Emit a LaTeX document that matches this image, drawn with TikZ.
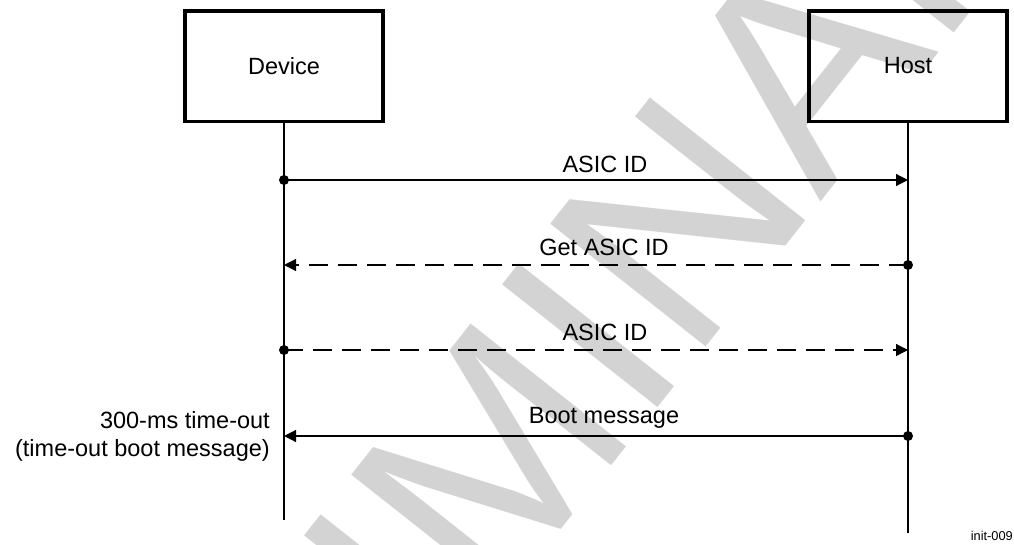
\documentclass[tikz,border=0pt]{standalone}
\usepackage{fontspec}
\setmainfont{Liberation Sans}
\usetikzlibrary{arrows.meta}
\definecolor{wmgray}{RGB}{211,211,211}
\begin{document}
\begin{tikzpicture}[x=1pt,y=-1pt,
  lbl/.style={font=\fontsize{23.5}{28}\selectfont, inner sep=0pt},
  actor/.style={draw, line width=3.5pt, minimum width=198pt, minimum height=110.5pt, inner sep=0pt, font=\fontsize{23.5}{28}\selectfont},
  life/.style={line width=1.2pt},
  msg/.style={line width=1.2pt, -{Triangle[length=12pt,width=12pt]}},
  dsh/.style={dash pattern=on 18.7pt off 10.3pt},
  dotn/.style={circle, fill, inner sep=0pt, minimum size=10pt},
  wmark/.style={text=wmgray, font=\fontsize{288}{288}\selectfont, inner sep=0pt}]
\useasboundingbox (0,0) rectangle (1014,544);
\begin{scope}
  \clip (0,0) rectangle (1014,544);
  \node[wmark, rotate=51.7, anchor=base west] (wm) at (-23,1270) {PRELIMINARY};
\end{scope}
% actors
\node[actor] (dev) at (284,66) {Device};
\node[actor] (host) at (908,66) {Host};
\coordinate (devend) at (284,520);
\coordinate (hostend) at (908,533);
\draw[life] (dev.south) -- (devend);
\draw[life] (host.south) -- (hostend);
% message 1
\node[dotn] (d1) at (284,180) {};
\coordinate (h1) at (908,180);
\draw[msg] (d1.center) -- (h1);
\node[lbl, anchor=base] (l1) at (605,172) {ASIC ID};
% message 2
\node[dotn] (h2) at (908,265) {};
\coordinate (d2) at (284,265);
\draw[msg, dsh] (h2.center) -- (d2);
\node[lbl, anchor=base] (l2) at (604,255) {Get ASIC ID};
% message 3
\node[dotn] (d3) at (284,350) {};
\coordinate (h3) at (908,350);
\draw[msg, dsh] (d3.center) -- (h3);
\node[lbl, anchor=base] (l3) at (605,340) {ASIC ID};
% message 4
\node[dotn] (h4) at (908,436) {};
\coordinate (d4) at (284,436);
\draw[msg] (h4.center) -- (d4);
\node[lbl, anchor=base] (l4) at (604,423) {Boot message};
% time-out note
\node[lbl, anchor=base east] (to1) at (270,428) {300-ms time-out};
\node[lbl, anchor=base east] (to2) at (270,456) {(time-out boot message)};
% figure id
\node[font=\fontsize{12.8}{15}\selectfont, inner sep=0pt, anchor=base east] (fid) at (1013,540) {init-009};
\end{tikzpicture}
\end{document}
